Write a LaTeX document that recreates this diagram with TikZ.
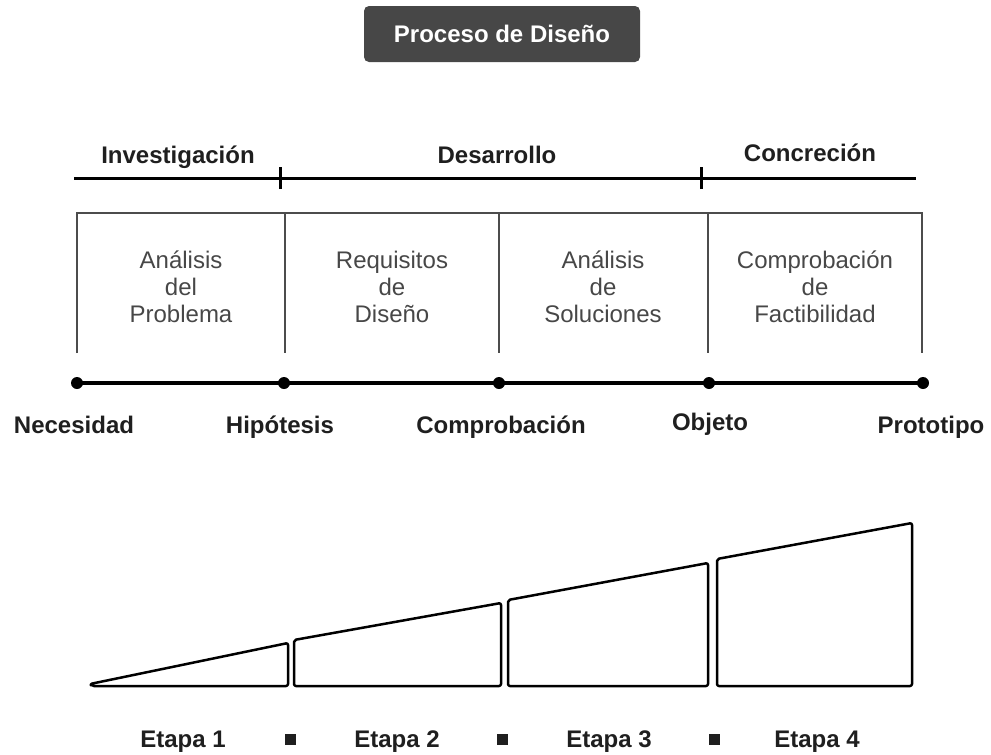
\documentclass[tikz,border=0pt]{standalone}
\usepackage{fontspec}
\setmainfont{Liberation Sans}
\begin{document}
\begin{tikzpicture}[x=1pt,y=-1pt,
  etiqueta/.style={font=\fontsize{24}{27}\selectfont\bfseries,text=black!88,text height=17pt,text depth=5pt},
  caja/.style={font=\fontsize{24}{27}\selectfont,text=black!72,align=center},
  punto/.style={circle,fill=black,inner sep=0pt,minimum size=12pt},
  cuadro/.style={fill=black!88,inner sep=0pt,minimum size=11pt},
  cuna/.style={line width=2.5pt,rounded corners=2pt,line join=round}]
\useasboundingbox (0,0) rectangle (991,755);
\node[fill=black!72,rounded corners=5pt,minimum width=276pt,minimum height=56pt,text=white,font=\fontsize{24}{27}\selectfont\bfseries] (titulo) at (502,34) {Proceso de Diseño};
\coordinate (f0) at (74,178);
\coordinate (f1) at (280,178);
\coordinate (f2) at (701,178);
\coordinate (f3) at (916,178);
\draw[line width=3pt] (f0) -- (f3);
\draw[line width=3pt] ([yshift=-11pt]f1) -- ([yshift=11pt]f1);
\draw[line width=3pt] ([yshift=-11pt]f2) -- ([yshift=11pt]f2);
\node[etiqueta] (inv) at (178,157) {Investigación};
\node[etiqueta] (des) at (497,157) {Desarrollo};
\node[etiqueta] (con) at (810,155) {Concreción};
\draw[line width=2pt,black!70] (77,353) -- (77,213) -- (922,213) -- (922,353);
\foreach \x in {285,499,708}
  \draw[line width=2pt,black!70] (\x,213) -- (\x,353);
\node[caja] (a1) at (181,287) {Análisis\\del\\Problema};
\node[caja] (a2) at (392,287) {Requisitos\\de\\Diseño};
\node[caja] (a3) at (603,287) {Análisis\\de\\Soluciones};
\node[caja] (a4) at (815,287) {Comprobación\\de\\Factibilidad};
\foreach \n/\x in {1/77,2/284,3/499,4/709,5/923}
  \node[punto] (p\n) at (\x,383) {};
\draw[line width=3.5pt] (p1.center) -- (p5.center);
\node[etiqueta] (nec) at (74,427) {Necesidad};
\node[etiqueta] (hip) at (280,427) {Hipótesis};
\node[etiqueta] (com) at (501,427) {Comprobación};
\node[etiqueta] (obj) at (710,424) {Objeto};
\node[etiqueta] (pro) at (931,427) {Prototipo};
\draw[cuna] (90,684) -- (288,643) -- (288,686) -- (92,686) -- cycle;
\draw[cuna] (294,640) -- (501,603) -- (501,686) -- (294,686) -- cycle;
\draw[cuna] (508,600) -- (708,563) -- (708,686) -- (508,686) -- cycle;
\draw[cuna] (717,559) -- (912,523) -- (912,686) -- (717,686) -- cycle;
\node[etiqueta] (e1) at (183,741) {Etapa 1};
\node[etiqueta] (e2) at (397,741) {Etapa 2};
\node[etiqueta] (e3) at (609,741) {Etapa 3};
\node[etiqueta] (e4) at (817,741) {Etapa 4};
\foreach \n/\x in {1/290,2/502,3/714}
  \node[cuadro] (c\n) at (\x,739) {};
\end{tikzpicture}
\end{document}
